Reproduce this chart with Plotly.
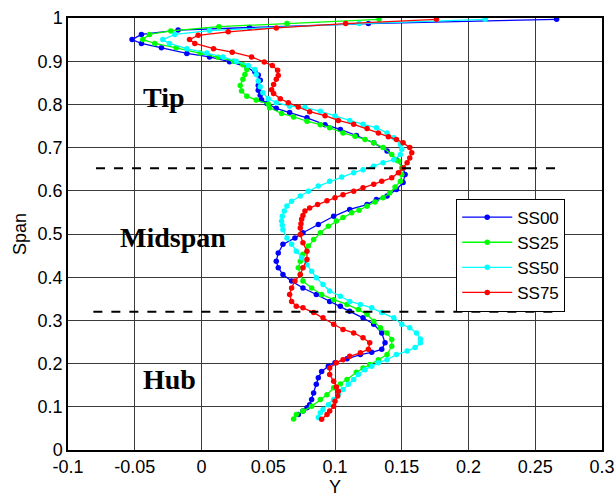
import plotly.graph_objects as go

# ---------------- data (x = "Y", y = "Span") ----------------
ss00_y = [0.266, 0.125, 0.036, -0.0175, -0.045, -0.052, -0.045, -0.030, -0.011, 0.006,
          0.021, 0.034, 0.040, 0.0425, 0.044, 0.0425, 0.0425, 0.044, 0.045, 0.049,
          0.056, 0.066, 0.079, 0.0925, 0.104, 0.116, 0.129, 0.139, 0.146, 0.151,
          0.1525, 0.151, 0.146, 0.139, 0.131, 0.124, 0.111, 0.099, 0.0875, 0.076,
          0.070, 0.061, 0.0575, 0.056, 0.0575, 0.061, 0.0675, 0.076, 0.086, 0.096,
          0.104, 0.111, 0.121, 0.129, 0.135, 0.1375, 0.135, 0.1275, 0.119, 0.109,
          0.100, 0.095, 0.090, 0.0875, 0.086, 0.084, 0.0825, 0.081, 0.079, 0.076, 0.0725]
ss00_span = [0.997, 0.987, 0.978, 0.972, 0.962, 0.950, 0.941, 0.931, 0.918, 0.910,
             0.899, 0.887, 0.875, 0.868, 0.856, 0.844, 0.833, 0.821, 0.811, 0.802,
             0.791, 0.781, 0.769, 0.753, 0.742, 0.728, 0.711, 0.692, 0.672, 0.653,
             0.638, 0.619, 0.603, 0.588, 0.580, 0.568, 0.557, 0.541, 0.522, 0.503,
             0.491, 0.476, 0.456, 0.437, 0.422, 0.406, 0.391, 0.375, 0.360, 0.344,
             0.333, 0.321, 0.306, 0.291, 0.271, 0.248, 0.233, 0.226, 0.221, 0.211,
             0.202, 0.194, 0.182, 0.167, 0.152, 0.132, 0.117, 0.105, 0.098, 0.090, 0.082]

ss25_y = [0.133, 0.064, 0.013, -0.023, -0.039, -0.044, -0.035, -0.019, -0.001, 0.0125,
          0.024, 0.031, 0.034, 0.0325, 0.031, 0.029, 0.030, 0.034, 0.041, 0.050,
          0.051, 0.060, 0.069, 0.079, 0.089, 0.096, 0.106, 0.115, 0.1225, 0.129,
          0.136, 0.1425, 0.1475, 0.150, 0.150, 0.149, 0.145, 0.141, 0.136, 0.130,
          0.124, 0.118, 0.1125, 0.106, 0.101, 0.095, 0.089, 0.084, 0.080, 0.076,
          0.074, 0.0725, 0.074, 0.076, 0.0825, 0.090, 0.099, 0.109, 0.1175, 0.124,
          0.129, 0.134, 0.139, 0.1425, 0.1425, 0.139, 0.1325, 0.126, 0.121, 0.116,
          0.109, 0.104, 0.099, 0.094, 0.089, 0.0825, 0.076, 0.071, 0.069]
ss25_span = [0.997, 0.987, 0.980, 0.970, 0.962, 0.950, 0.941, 0.931, 0.919, 0.909,
             0.900, 0.892, 0.881, 0.869, 0.858, 0.844, 0.831, 0.819, 0.810, 0.801,
             0.792, 0.779, 0.771, 0.761, 0.753, 0.746, 0.734, 0.726, 0.719, 0.711,
             0.700, 0.684, 0.669, 0.653, 0.638, 0.622, 0.609, 0.595, 0.584, 0.574,
             0.564, 0.555, 0.549, 0.538, 0.530, 0.518, 0.503, 0.487, 0.472, 0.453,
             0.437, 0.422, 0.406, 0.391, 0.375, 0.360, 0.348, 0.337, 0.325, 0.314,
             0.298, 0.283, 0.271, 0.256, 0.240, 0.221, 0.209, 0.198, 0.190, 0.180,
             0.163, 0.153, 0.144, 0.128, 0.117, 0.101, 0.090, 0.082, 0.072]

ss50_y = [0.2125, 0.118, 0.006, -0.020, -0.029, -0.024, -0.011, 0.004, 0.016, 0.026,
          0.035, 0.040, 0.041, 0.0425, 0.044, 0.046, 0.050, 0.056, 0.066, 0.0775,
          0.089, 0.100, 0.111, 0.121, 0.131, 0.139, 0.144, 0.149, 0.150, 0.149,
          0.144, 0.136, 0.129, 0.121, 0.114, 0.105, 0.096, 0.0875, 0.080, 0.074,
          0.0675, 0.064, 0.062, 0.0605, 0.060, 0.0605, 0.061, 0.064, 0.0675, 0.071,
          0.075, 0.079, 0.0825, 0.086, 0.091, 0.096, 0.104, 0.111, 0.119, 0.1275,
          0.135, 0.144, 0.150, 0.156, 0.161, 0.164, 0.164, 0.160, 0.154, 0.146,
          0.139, 0.1325, 0.1275, 0.1225, 0.1175, 0.114, 0.110, 0.106, 0.1025, 0.099,
          0.095, 0.091, 0.089, 0.0875]
ss50_span = [0.997, 0.987, 0.971, 0.962, 0.950, 0.941, 0.929, 0.919, 0.910, 0.900,
             0.890, 0.881, 0.869, 0.854, 0.841, 0.827, 0.813, 0.804, 0.796, 0.793,
             0.784, 0.773, 0.763, 0.754, 0.746, 0.734, 0.723, 0.707, 0.696, 0.684,
             0.672, 0.665, 0.657, 0.649, 0.642, 0.632, 0.622, 0.611, 0.599, 0.588,
             0.576, 0.565, 0.553, 0.541, 0.530, 0.520, 0.510, 0.491, 0.476, 0.460,
             0.445, 0.429, 0.414, 0.399, 0.383, 0.368, 0.356, 0.344, 0.337, 0.329,
             0.318, 0.306, 0.291, 0.283, 0.271, 0.257, 0.248, 0.237, 0.229, 0.221,
             0.209, 0.202, 0.194, 0.186, 0.175, 0.163, 0.152, 0.140, 0.128, 0.117,
             0.105, 0.094, 0.086, 0.075]

ss75_y = [0.176, 0.108, 0.056, 0.020, -0.0025, -0.009, -0.005, 0.009, 0.023, 0.0375,
          0.047, 0.053, 0.057, 0.0575, 0.056, 0.054, 0.0525, 0.054, 0.059, 0.065,
          0.0725, 0.081, 0.0925, 0.1025, 0.114, 0.124, 0.1325, 0.140, 0.146, 0.151,
          0.156, 0.1575, 0.156, 0.154, 0.151, 0.1475, 0.1425, 0.135, 0.129, 0.121,
          0.114, 0.106, 0.100, 0.094, 0.087, 0.081, 0.0775, 0.076, 0.075, 0.0745,
          0.074, 0.074, 0.076, 0.079, 0.079, 0.076, 0.074, 0.070, 0.0675, 0.066,
          0.0675, 0.071, 0.076, 0.084, 0.091, 0.099, 0.106, 0.114, 0.121, 0.126,
          0.125, 0.119, 0.111, 0.106, 0.101, 0.096, 0.096, 0.099, 0.101, 0.1025,
          0.102, 0.100, 0.099, 0.096, 0.094, 0.090]
ss75_span = [0.997, 0.987, 0.977, 0.968, 0.960, 0.950, 0.941, 0.929, 0.921, 0.910,
             0.898, 0.890, 0.879, 0.867, 0.858, 0.846, 0.834, 0.825, 0.813, 0.804,
             0.794, 0.783, 0.774, 0.763, 0.754, 0.744, 0.734, 0.725, 0.719, 0.711,
             0.700, 0.688, 0.676, 0.665, 0.653, 0.642, 0.630, 0.622, 0.615, 0.607,
             0.599, 0.591, 0.584, 0.577, 0.568, 0.560, 0.553, 0.543, 0.534, 0.524,
             0.514, 0.499, 0.480, 0.460, 0.441, 0.422, 0.406, 0.391, 0.375, 0.360,
             0.344, 0.333, 0.329, 0.318, 0.306, 0.291, 0.279, 0.271, 0.260, 0.248,
             0.233, 0.225, 0.217, 0.209, 0.202, 0.190, 0.175, 0.159, 0.146, 0.136,
             0.125, 0.113, 0.101, 0.090, 0.082, 0.071]

series_names = ["SS00", "SS25", "SS50", "SS75"]
series_colors = ["#0000FF", "#00FF00", "#00FFFF", "#FF0000"]

# region boundaries (dashed lines) and region labels
boundary_span = [0.652, 0.320]
boundary_x_start = [-0.079, -0.081]
boundary_x_end = [0.271, 0.269]
region_labels = ["Tip", "Midspan", "Hub"]
region_label_x = [-0.028, -0.0215, -0.024]
region_label_span = [0.816, 0.492, 0.163]

x_tickvals = [-0.1, -0.05, 0, 0.05, 0.1, 0.15, 0.2, 0.25, 0.3]
x_ticktext = ["-0.1", "-0.05", "0", "0.05", "0.1", "0.15", "0.2", "0.25", "0.3"]
y_tickvals = [0, 0.1, 0.2, 0.3, 0.4, 0.5, 0.6, 0.7, 0.8, 0.9, 1]
y_ticktext = ["0", "0.1", "0.2", "0.3", "0.4", "0.5", "0.6", "0.7", "0.8", "0.9", "1"]

# ---------------- figure ----------------
fig = go.Figure()
all_x = [ss00_y, ss25_y, ss50_y, ss75_y]
all_s = [ss00_span, ss25_span, ss50_span, ss75_span]
for name, color, xs, ss in zip(series_names, series_colors, all_x, all_s):
    fig.add_trace(go.Scatter(
        x=xs, y=ss, mode="lines+markers", name=name,
        line=dict(color=color, width=1.3),
        marker=dict(color=color, size=5.5),
    ))

for s, x0, x1 in zip(boundary_span, boundary_x_start, boundary_x_end):
    fig.add_shape(type="line", xref="x", yref="y", x0=x0, x1=x1, y0=s, y1=s,
                  line=dict(color="black", width=2, dash="dash"))

for txt, lx, ls in zip(region_labels, region_label_x, region_label_span):
    fig.add_annotation(x=lx, y=ls, xref="x", yref="y", text="<b>" + txt + "</b>",
                       showarrow=False,
                       font=dict(family="Liberation Serif", size=28, color="black"),
                       xanchor="center", yanchor="middle")

sans = "Liberation Sans"
fig.update_layout(
    width=616, height=497,
    margin=dict(l=68, r=14, t=18, b=47),
    paper_bgcolor="white", plot_bgcolor="white",
    font=dict(family=sans, size=18, color="black"),
    showlegend=True,
    legend=dict(x=0.727, y=0.582, xanchor="left", yanchor="top",
                bgcolor="white", bordercolor="black", borderwidth=1,
                font=dict(family=sans, size=17, color="black"),
                itemwidth=50, entrywidth=118, entrywidthmode="pixels",
                tracegroupgap=0),
)
fig.update_xaxes(range=[-0.1, 0.3], tickvals=x_tickvals, ticktext=x_ticktext,
                 automargin=False,
                 showgrid=True, gridcolor="#3a3a3a", gridwidth=1,
                 showline=True, linecolor="black", linewidth=1.5, mirror=True,
                 zeroline=False, ticks="", tickfont=dict(size=18),
                 title=dict(text="Y", font=dict(size=18), standoff=4))
fig.update_yaxes(range=[0, 1], tickvals=y_tickvals, ticktext=y_ticktext,
                 automargin=False,
                 showgrid=True, gridcolor="#3a3a3a", gridwidth=1,
                 showline=True, linecolor="black", linewidth=1.5, mirror=True,
                 zeroline=False, ticks="", tickfont=dict(size=18),
                 title=dict(text="Span", font=dict(size=18), standoff=6))

fig.write_html("out.html")
